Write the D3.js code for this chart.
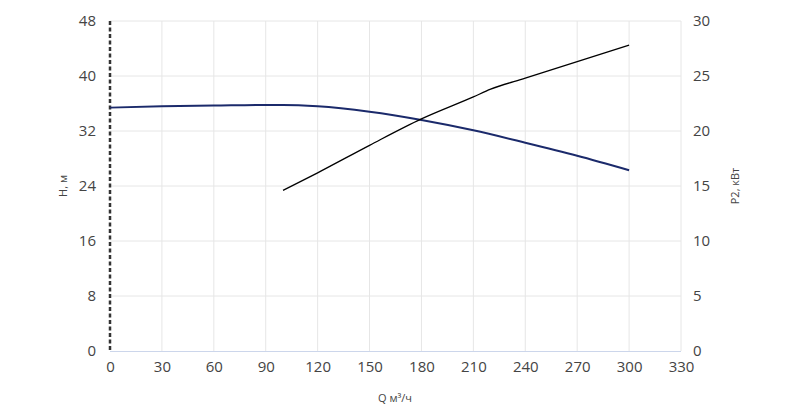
<!DOCTYPE html>
<html><head><meta charset="utf-8">
<script src="https://cdn.jsdelivr.net/npm/d3@7"></script>
<style>body{margin:0;background:#fff}text{font-family:"Open Sans",sans-serif}</style>
</head><body><svg id="c" width="800" height="408"></svg>
<script>
const qTicks=[0,30,60,90,120,150,180,210,240,270,300,330];
const hTicks=[0,8,16,24,32,40,48];
const pTicks=[0,5,10,15,20,25,30];
const headQ=[0,30,60,90,100,120,150,180,210,240,270,300];
const headH=[35.4,35.6,35.7,35.8,35.8,35.6,34.8,33.6,32.1,30.3,28.4,26.3];
const powQ=[100,120,150,180,210,220,240,270,300];
const powP=[14.6,16.2,18.7,21.1,23.1,23.8,24.8,26.3,27.8];

const svg=d3.select('#c');
const x=d3.scaleLinear().domain([0,330]).range([110,681]);
const yH=d3.scaleLinear().domain([0,48]).range([351,21]);
const yP=d3.scaleLinear().domain([0,30]).range([351,21]);

svg.append('g').selectAll('line').data(qTicks.slice(1)).join('line')
  .attr('x1',d=>x(d)).attr('x2',d=>x(d)).attr('y1',21).attr('y2',351)
  .attr('stroke','#e6e6e6');
svg.append('g').selectAll('line').data(hTicks.slice(1)).join('line')
  .attr('x1',110).attr('x2',681).attr('y1',d=>yH(d)).attr('y2',d=>yH(d))
  .attr('stroke','#e6e6e6');
svg.append('line').attr('x1',110).attr('x2',681).attr('y1',351.5).attr('y2',351.5)
  .attr('stroke','#ccd6eb');
svg.append('line').attr('x1',110).attr('x2',110).attr('y1',21).attr('y2',351)
  .attr('stroke','#333').attr('stroke-width',2.5).attr('stroke-dasharray','4,2.5');

const lab=(g)=>g.selectAll('text').attr('fill','#444').attr('font-size',15);
svg.append('g').attr('transform','translate(0,351)')
  .call(d3.axisBottom(x).tickValues(qTicks).tickSize(0).tickPadding(10))
  .call(g=>g.select('.domain').remove()).call(lab);
svg.append('g').attr('transform','translate(110,0)')
  .call(d3.axisLeft(yH).tickValues(hTicks).tickSize(0).tickPadding(14))
  .call(g=>g.select('.domain').remove()).call(lab);
svg.append('g').attr('transform','translate(681,0)')
  .call(d3.axisRight(yP).tickValues(pTicks).tickSize(0).tickPadding(12))
  .call(g=>g.select('.domain').remove()).call(lab);

svg.append('text').attr('x',395).attr('y',402).attr('text-anchor','middle')
  .attr('font-size',11).attr('fill','#444').text('Q м³/ч');
svg.append('text').attr('transform','translate(67,186) rotate(-90)').attr('text-anchor','middle')
  .attr('font-size',11).attr('fill','#444').text('H, м');
svg.append('text').attr('transform','translate(739,186) rotate(-90)').attr('text-anchor','middle')
  .attr('font-size',11).attr('fill','#444').text('P2, кВт');

svg.append('path').datum(headQ.map((q,i)=>[q,headH[i]]))
  .attr('d',d3.line().x(d=>x(d[0])).y(d=>yH(d[1])).curve(d3.curveMonotoneX))
  .attr('fill','none').attr('stroke','#1b2a6b').attr('stroke-width',2);
svg.append('path').datum(powQ.map((q,i)=>[q,powP[i]]))
  .attr('d',d3.line().x(d=>x(d[0])).y(d=>yP(d[1])).curve(d3.curveMonotoneX))
  .attr('fill','none').attr('stroke','#000').attr('stroke-width',1.3);
</script></body></html>
